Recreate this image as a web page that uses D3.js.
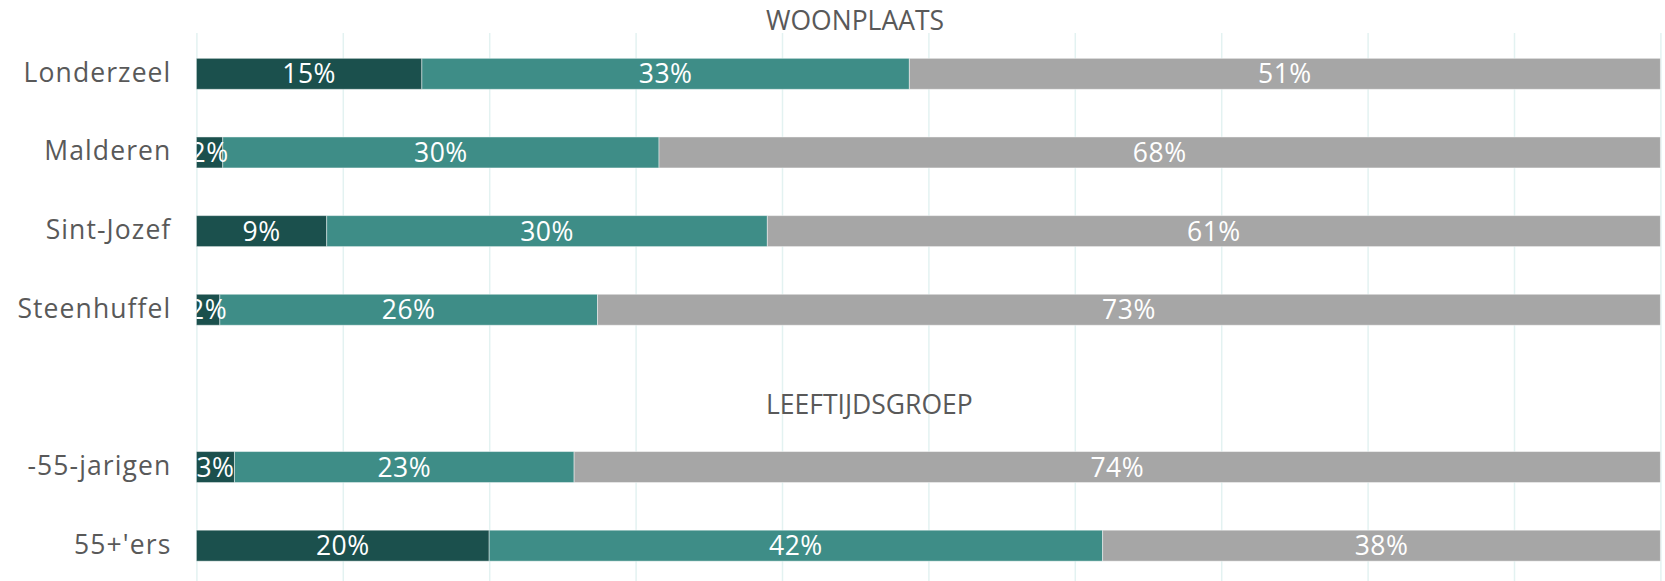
<!DOCTYPE html>
<html>
<head>
<meta charset="utf-8">
<script src="https://cdn.jsdelivr.net/npm/d3@7"></script>
<style>
  body { margin: 0; background: #fff; }
  svg { display: block; font-family: "Open Sans", sans-serif; }
</style>
</head>
<body>
<svg></svg>
<script>
// Afmetingen
const width = 1665;
const height = 581;
const margin = { top: 34.5, right: 5, bottom: -4, left: 196.4 };

// Data
const categories = ["Londerzeel", "Malderen", "Sint-Jozef", "Steenhuffel", "", "-55-jarigen", "55+'ers"];
const series = ["donker", "midden", "grijs"];
const donker = [15.4, 1.8, 8.9, 1.6, null, 2.6, 20.0];
const midden = [33.3, 29.8, 30.1, 25.8, null, 23.2, 41.9];
const grijs  = [51.3, 68.4, 61.0, 72.6, null, 74.2, 38.1];
const ticks = [0, 10, 20, 30, 40, 50, 60, 70, 80, 90, 100];
const titles = ["WOONPLAATS", "LEEFTIJDSGROEP"];

const colors = ["#1b504d", "#3e8d87", "#a6a6a6"];

const rows = categories.map((c, i) => ({
    cat: c, donker: donker[i], midden: midden[i], grijs: grijs[i]
})).filter(d => d.donker !== null);

const stack = d3.stack().keys(series)(rows);

const x = d3.scaleLinear()
    .domain([0, 100])
    .range([margin.left, margin.left + 1464]);

const y = d3.scaleBand()
    .domain(categories)
    .range([margin.top, height - margin.bottom])
    .paddingInner(0.606)
    .paddingOuter(0.303);

const svg = d3.select("svg")
    .attr("width", width)
    .attr("height", height);

// Rasterlijnen
svg.append("g")
    .attr("transform", `translate(0,${height})`)
    .call(d3.axisBottom(x).tickValues(ticks).tickSize(-(height - 33)).tickFormat(""))
    .call(g => g.select(".domain").remove())
    .call(g => g.selectAll("line").attr("stroke", "#e3f2f1").attr("stroke-width", 1.5));

svg.append("defs").append("clipPath").attr("id", "plot")
    .append("rect")
    .attr("x", x(0)).attr("y", 0)
    .attr("width", x(100) - x(0)).attr("height", height);

// Balken
const layer = svg.append("g")
    .selectAll("g")
    .data(stack)
    .enter().append("g")
    .attr("fill", (d, i) => colors[i]);

layer.selectAll("rect")
    .data(d => d)
    .enter().append("rect")
    .attr("x", d => x(d[0]))
    .attr("y", d => y(d.data.cat))
    .attr("width", d => x(d[1]) - x(d[0]))
    .attr("height", y.bandwidth())
    .attr("stroke", "rgba(255,255,255,0.45)")
    .attr("stroke-width", 1);

// Labels in de balken
svg.append("g")
    .attr("clip-path", "url(#plot)")
    .selectAll("g")
    .data(stack)
    .enter().append("g")
    .selectAll("text")
    .data(d => d)
    .enter().append("text")
    .attr("x", d => (x(d[0]) + x(d[1])) / 2)
    .attr("y", d => y(d.data.cat) + y.bandwidth() / 2 + 9.5)
    .attr("text-anchor", "middle")
    .attr("fill", "#fff")
    .style("font-size", "26.5px")
    .style("letter-spacing", "0.5px")
    .text(d => Math.round(d[1] - d[0]) + "%");

// Categorie-as
svg.append("g")
    .attr("transform", `translate(${x(0) - 25},0)`)
    .call(d3.axisLeft(y).tickSize(0).tickPadding(0))
    .call(g => g.select(".domain").remove())
    .call(g => g.selectAll("text")
        .attr("fill", "#595959")
        .attr("dy", null)
        .attr("y", 8)
        .style("font-size", "26.5px")
        .style("letter-spacing", "1.1px")
        .style("font-family", "'Open Sans', sans-serif"));

// Titels
svg.append("text")
    .attr("x", 766)
    .attr("y", 30)
    .attr("fill", "#595959")
    .style("font-size", "26.5px")
    .text(titles[0]);

svg.append("text")
    .attr("x", 766)
    .attr("y", y("") + y.bandwidth() / 2 + 26)
    .attr("fill", "#595959")
    .style("font-size", "26.5px")
    .text(titles[1]);
</script>
</body>
</html>
